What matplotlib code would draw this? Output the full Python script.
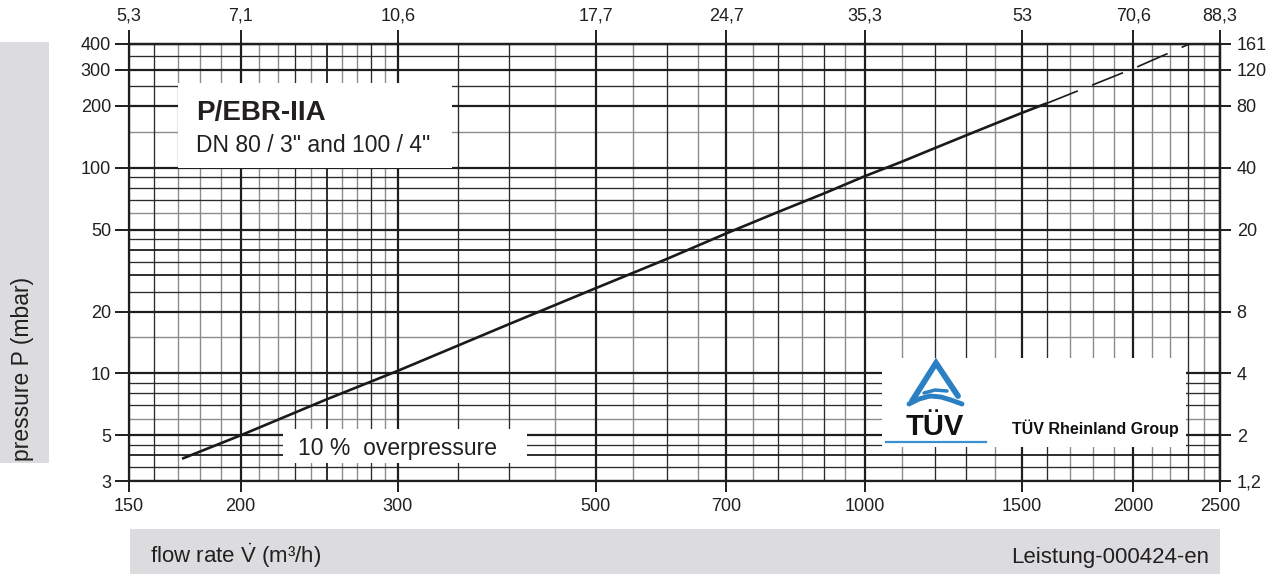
import matplotlib
matplotlib.use('Agg')
import matplotlib.pyplot as plt
from matplotlib.patches import Rectangle
from matplotlib.ticker import NullLocator, FixedLocator, FixedFormatter

plt.rcParams['font.family'] = ['Liberation Sans', 'DejaVu Sans']
plt.rcParams['lines.scale_dashes'] = False
plt.rcParams['mathtext.fontset'] = 'custom'
plt.rcParams['mathtext.rm'] = 'Liberation Sans'
plt.rcParams['mathtext.it'] = 'Liberation Sans:italic'
plt.rcParams['mathtext.bf'] = 'Liberation Sans:bold'

# ---- data ----
flow_solid = [172, 200, 250, 300, 400, 500, 600, 700, 800, 900, 1000,
              1100, 1200, 1300, 1400, 1500, 1600]
pressure_solid = [3.85, 5.0, 7.5, 10.3, 17.4, 26.0, 36.0, 48.0, 61.0,
                  75.0, 91.0, 107, 125, 144, 164, 185, 206]
flow_dashed = [1600, 2000, 2310]
pressure_dashed = [206, 304, 400]

x_ticks = [150, 200, 300, 500, 700, 1000, 1500, 2000, 2500]
x_top_labels = ['5,3', '7,1', '10,6', '17,7', '24,7', '35,3', '53', '70,6', '88,3']
y_ticks = [3, 5, 10, 20, 50, 100, 200, 300, 400]
y_right_labels = ['1,2', '2', '4', '8', '20', '40', '80', '120', '161']

x_grid_medium = [250]
x_grid_dark = [160, 230, 280, 350, 400, 600, 800, 900, 1200, 1300, 1600, 2300]
x_grid_gray = [170, 180, 190, 210, 220, 240, 260, 270, 290, 450, 550, 650, 750,
               850, 950, 1100, 1400, 1700, 1800, 1900, 2100, 2200, 2400]
y_grid_medium = [4, 30, 40]
y_grid_dark = [3.5, 4.5, 7, 8, 9, 25, 35, 45, 70, 80, 90, 250, 350]
y_grid_gray = [6, 15, 60, 150]

title_text = 'P/EBR-IIA'
subtitle_text = 'DN 80 / 3" and 100 / 4"'
note_text = '10 %  overpressure'
xlabel_text = 'flow rate $\\dot{\\mathrm{V}}$ (m³/h)'
ylabel_text = 'pressure P (mbar)'
code_text = 'Leistung-000424-en'

W, H = 1273, 574
TXT = '#231f20'
TICK_FS = 13
fig = plt.figure(figsize=(W / 100, H / 100), dpi=100)
ax = fig.add_axes([129 / W, 1 - 481 / H, (1220 - 129) / W, (481 - 44) / H])
ax.set_xscale('log')
ax.set_yscale('log')
ax.set_xlim(150, 2500)
ax.set_ylim(3, 400)

for v in x_grid_gray:
    ax.axvline(v, color='#8c8c8c', lw=1.0, zorder=1)
for v in y_grid_gray:
    ax.axhline(v, color='#8c8c8c', lw=1.0, zorder=1)
for v in x_grid_dark:
    ax.axvline(v, color='#2b2b2b', lw=0.95, zorder=1.2)
for v in y_grid_dark:
    ax.axhline(v, color='#2b2b2b', lw=0.95, zorder=1.2)
for v in x_grid_medium:
    ax.axvline(v, color='#1e1e1e', lw=1.3, zorder=1.3)
for v in y_grid_medium:
    ax.axhline(v, color='#1e1e1e', lw=1.3, zorder=1.3)
for v in x_ticks:
    ax.axvline(v, color='#1e1e1e', lw=1.6, zorder=1.4)
for v in y_ticks:
    ax.axhline(v, color='#1e1e1e', lw=1.6, zorder=1.4)

ax.plot(flow_solid, pressure_solid, color='#1a1a1a', lw=1.9, zorder=3,
        solid_capstyle='butt')
ax.plot(flow_dashed, pressure_dashed, color='#1a1a1a', lw=1.2, zorder=3,
        dashes=(24, 11))

for s in ax.spines.values():
    s.set_linewidth(1.6)
    s.set_color('#1e1e1e')

ax.xaxis.set_major_locator(FixedLocator(x_ticks))
ax.xaxis.set_major_formatter(FixedFormatter([str(v) for v in x_ticks]))
ax.xaxis.set_minor_locator(NullLocator())
ax.yaxis.set_major_locator(FixedLocator(y_ticks))
ax.yaxis.set_major_formatter(FixedFormatter([str(v) for v in y_ticks]))
ax.yaxis.set_minor_locator(NullLocator())
ax.tick_params(axis='x', direction='out', length=8, width=1.4, pad=4,
               labelsize=TICK_FS, color='#1e1e1e', labelcolor=TXT)
ax.tick_params(axis='y', direction='out', length=10, width=1.4, pad=3,
               labelsize=TICK_FS, color='#1e1e1e', labelcolor=TXT)

top = ax.secondary_xaxis('top')
top.xaxis.set_major_locator(FixedLocator(x_ticks))
top.xaxis.set_major_formatter(FixedFormatter(x_top_labels))
top.xaxis.set_minor_locator(NullLocator())
top.tick_params(direction='out', length=10, width=1.4, pad=4,
                labelsize=TICK_FS, color='#1e1e1e', labelcolor=TXT)
top.spines['top'].set_linewidth(1.6)

right = ax.secondary_yaxis('right')
right.yaxis.set_major_locator(FixedLocator(y_ticks))
right.yaxis.set_major_formatter(FixedFormatter(y_right_labels))
right.yaxis.set_minor_locator(NullLocator())
right.tick_params(direction='out', length=8, width=1.4, pad=4,
                  labelsize=TICK_FS, color='#1e1e1e', labelcolor=TXT)
right.spines['right'].set_linewidth(1.6)

# ---- overlay for boxes and annotations (pixel coordinates) ----
ov = fig.add_axes([0, 0, 1, 1], zorder=5)
ov.set_xlim(0, W)
ov.set_ylim(H, 0)
ov.axis('off')
ov.patch.set_alpha(0)

ov.add_patch(Rectangle((0, 42), 49, 421, color='#dcdcde', lw=0))
ov.text(23, 461, ylabel_text, rotation=90, ha='center', va='bottom',
        fontsize=16.5, color=TXT)
ov.add_patch(Rectangle((130, 529), 1090, 45, color='#dcdcde', lw=0))
ov.text(150, 563, xlabel_text, ha='left', va='baseline', fontsize=16, color=TXT)
ov.text(1209, 563, code_text, ha='right', va='baseline', fontsize=16, color=TXT)

ov.add_patch(Rectangle((178, 83), 274, 85, color='white', lw=0))
ov.text(196, 120, title_text, ha='left', va='baseline', fontsize=20,
        fontweight='bold', color=TXT)
ov.text(196, 152, subtitle_text, ha='left', va='baseline', fontsize=16.5, color=TXT)

ov.add_patch(Rectangle((283, 429), 244, 34, color='white', lw=0))
ov.text(298, 455, note_text, ha='left', va='baseline', fontsize=16.5, color=TXT)

ov.add_patch(Rectangle((882, 358), 304, 89, color='white', lw=0))
blue = '#2b7fc3'
ov.plot([912, 936, 958], [401, 363, 396], color=blue, lw=4.2, solid_capstyle='round',
        solid_joinstyle='miter')
ov.plot([909, 919, 930, 941, 951, 962], [404, 399, 396, 397, 400, 404],
        color=blue, lw=3.5, solid_capstyle='round')
ov.plot([924, 935, 947], [393, 390, 391], color=blue, lw=2.5, solid_capstyle='round')
ov.text(935, 435, 'TÜV', ha='center', va='baseline', fontsize=21,
        fontweight='bold', color='#111111')
ov.plot([886, 986], [442, 442], color='#3a8fd0', lw=1.6)
ov.text(1012, 434, 'TÜV Rheinland Group', ha='left', va='baseline',
        fontsize=11.5, fontweight='bold', color='#111111')

fig.savefig('out.png', dpi=100)
